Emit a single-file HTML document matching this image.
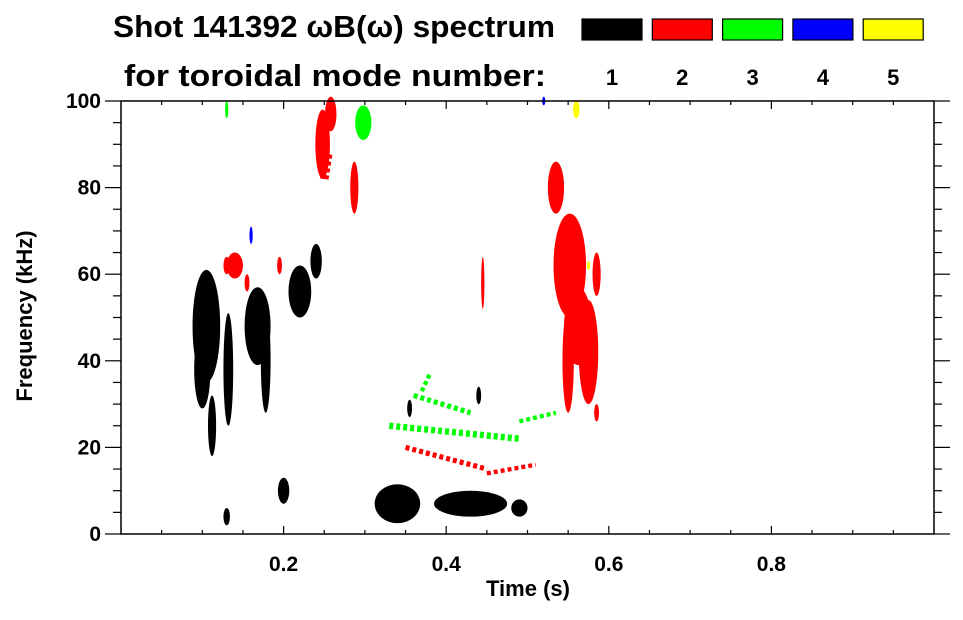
<!DOCTYPE html>
<html><head><meta charset="utf-8"><style>
body{margin:0;background:#fff;width:963px;height:615px;overflow:hidden}
svg text{font-family:"Liberation Sans",sans-serif;font-weight:bold;fill:#000}
</style></head><body>
<svg id="chart" width="963" height="615" xmlns="http://www.w3.org/2000/svg">
<text x="113" y="37" font-size="31" textLength="442" lengthAdjust="spacingAndGlyphs">Shot 141392 ωB(ω) spectrum</text>
<text x="124" y="86" font-size="31" textLength="422" lengthAdjust="spacingAndGlyphs">for toroidal mode number:</text>
<g id="legend"></g>
<g id="marks"></g>
<g id="axes"></g>
<text x="528" y="596" font-size="22" text-anchor="middle">Time (s)</text>
<text transform="translate(32,316) rotate(-90)" font-size="22" text-anchor="middle">Frequency (kHz)</text>
</svg>
<script>
const modes=[1,2,3,4,5];
const modeColors=["#000","#f00","#0f0","#00f","#ff0"];
const xTicks=[0.2,0.4,0.6,0.8];
const yTicks=[0,20,40,60,80,100];
// blobs: centre time, centre freq, half-width time, half-height freq, mode index
const blobT=[0.105,0.1,0.112,0.132,0.168,0.178,0.22,0.24,0.34,0.43,0.49,0.13,0.2,0.355,0.44,
 0.248,0.258,0.287,0.535,0.552,0.562,0.575,0.445,0.14,0.155,0.298,0.55,0.585,0.13,0.195,
 0.16,0.13,0.52,0.56,0.575,0.585];
const blobF=[48,38,25,38,48,40,56,63,7,7,6,4,10,29,32,
 90,97,80,80,62,48,42,58,62,58,95,40,60,62,62,
 69,98,100,98,62,28];
const blobDT=[0.017,0.01,0.005,0.006,0.016,0.006,0.014,0.007,0.028,0.045,0.01,0.004,0.007,0.003,0.003,
 0.009,0.007,0.005,0.01,0.02,0.017,0.012,0.002,0.01,0.003,0.01,0.007,0.005,0.004,0.003,
 0.002,0.002,0.002,0.004,0.002,0.003];
const blobDF=[13,9,7,13,9,12,6,4,4.5,3,2,2,3,2,2,
 8,4,6,6,12,9,12,6,3,2,4,12,5,2,2,
 2,2,1,2,1,2];
const blobMode=[0,0,0,0,0,0,0,0,0,0,0,0,0,0,0,
 1,1,1,1,1,1,1,1,1,1,2,1,1,1,1,
 3,2,3,4,4,1];
// line features: t1,f1,t2,f2,mode index, thickness kHz
const lineT1=[0.36,0.33,0.49,0.35,0.45,0.37,0.25];
const lineF1=[32,25,26,20,14,33,82];
const lineT2=[0.43,0.49,0.535,0.45,0.51,0.38,0.255];
const lineF2=[28,22,28,15,16,37,88];
const lineMode=[2,2,2,1,1,2,1];
const lineW=[1.2,1.5,1,1.2,1,1,2];

const X0=121,X1=934,Y0=534,Y1=101;
const xs=t=>X0+(X1-X0)*t;
const ys=f=>Y0-(Y0-Y1)*f/100;
const NS="http://www.w3.org/2000/svg";
function mk(tag,attrs,parent){const e=document.createElementNS(NS,tag);for(const k in attrs)e.setAttribute(k,attrs[k]);parent.appendChild(e);return e;}
const marks=document.getElementById('marks'),axes=document.getElementById('axes'),leg=document.getElementById('legend');

modes.forEach((m,i)=>{
 const r=mk('rect',{x:582+i*70.3,y:19,width:60,height:21,fill:modeColors[i],stroke:'#000','stroke-width':1.2},leg);
 
 
 const t=mk('text',{x:612+i*70.3,y:85,'font-size':22,'text-anchor':'middle'},leg);
 t.textContent=m;
 
 
});

blobT.forEach((t,i)=>{
 const e=mk('ellipse',{cx:xs(t),cy:ys(blobF[i]),rx:Math.max(1,xs(blobDT[i])-xs(0)),ry:Math.max(1,ys(0)-ys(blobDF[i])),fill:modeColors[blobMode[i]]},marks);
 
 
});
lineT1.forEach((t,i)=>{
 const l=mk('line',{x1:xs(t),y1:ys(lineF1[i]),x2:xs(lineT2[i]),y2:ys(lineF2[i]),stroke:modeColors[lineMode[i]],'stroke-width':Math.max(1,(ys(0)-ys(lineW[i]))),'stroke-dasharray':'4 3'},marks);
 
 
});

const frame=mk('rect',{x:X0,y:Y1,width:X1-X0,height:Y0-Y1,fill:'none',stroke:'#000','stroke-width':1.5},axes);


for(let k=1;k<20;k++){const t=k*0.05,maj=k%4==0,L=maj?8:4;
 mk('line',{x1:xs(t),y1:Y0,x2:xs(t),y2:Y0-L,stroke:'#000','stroke-width':1.2},axes);
 mk('line',{x1:xs(t),y1:Y1,x2:xs(t),y2:Y1+L,stroke:'#000','stroke-width':1.2},axes);}
for(let k=0;k<=20;k++){const f=k*5,maj=k%4==0,L=maj?16:8;
 mk('line',{x1:X0,y1:ys(f),x2:X0-L,y2:ys(f),stroke:'#000','stroke-width':1.2},axes);
 mk('line',{x1:X1,y1:ys(f),x2:X1+L,y2:ys(f),stroke:'#000','stroke-width':1.2},axes);}
xTicks.forEach(t=>{const e=mk('text',{x:xs(t),y:571,'font-size':21,'text-anchor':'middle'},axes);e.textContent=t.toFixed(1);
 
 });
yTicks.forEach(f=>{const e=mk('text',{x:101,y:ys(f)+7,'font-size':21,'text-anchor':'end'},axes);e.textContent=f;
 
 });
</script>
</body></html>
